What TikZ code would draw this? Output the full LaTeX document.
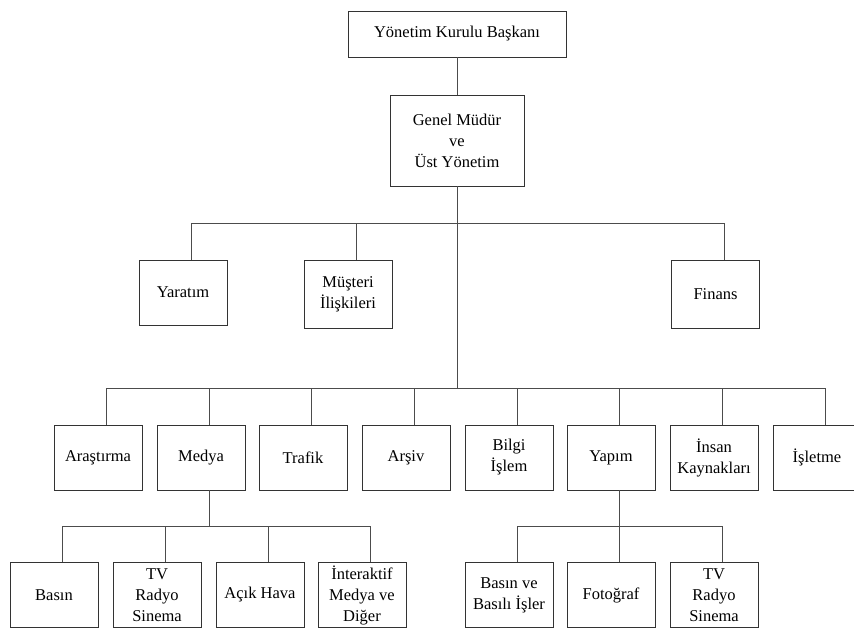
\documentclass[tikz,border=0pt]{standalone}
\usepackage{fontspec}
\setmainfont{Liberation Serif}

\tikzset{
    unit/.style={draw=black!80, line width=0.8pt, minimum width=88pt, minimum height=65pt,
        inner sep=1pt, align=center, font=\fontsize{16.5}{21}\selectfont},
    link/.style={draw=black!70, line width=0.8pt}
}

\begin{document}
\begin{tikzpicture}[x=1pt, y=-1pt]
            \useasboundingbox (0,0) rectangle (854,628);

            \def\dx{8.5pt}

            % top
            \node[unit, minimum width=218pt, minimum height=46pt] (ykb) at (457,34) {Yönetim Kurulu Başkanı};
            \node[unit, minimum width=134pt, minimum height=91pt] (gm) at (457,140.5) {Genel Müdür\\ve\\Üst Yönetim};

            % first level
            \node[unit] (yar) at (183,292.5) {Yaratım};
            \node[unit, minimum height=68pt] (mus) at (348,294) {Müşteri\\İlişkileri};
            \node[unit, minimum height=68pt] (fin) at (715.5,294) {Finans};

            % second level
            \node[unit] (ar) at (98,457.5) {Araştırma};
            \node[unit] (med) at (201,457.5) {Medya};
            \node[unit] (tra) at (303,457.5) {Trafik};
            \node[unit] (arsv) at (406,457.5) {Arşiv};
            \node[unit] (bil) at (509,457.5) {Bilgi\\İşlem};
            \node[unit] (yap) at (611,457.5) {Yapım};
            \node[unit] (ik) at (714,457.5) {İnsan\\Kaynakları};
            \node[unit] (isl) at (817,457.5) {İşletme};

            % third level
            \node[unit] (basin) at (54,595) {Basın};
            \node[unit] (tv) at (157,595) {TV\\Radyo\\Sinema};
            \node[unit] (acik) at (260,595) {Açık Hava};
            \node[unit] (inter) at (362,595) {İnteraktif\\Medya ve\\Diğer};
            \node[unit] (bv) at (509,595) {Basın ve\\Basılı İşler};
            \node[unit] (foto) at (611,595) {Fotoğraf};
            \node[unit] (tv2) at (714,595) {TV\\Radyo\\Sinema};

            \coordinate (hub1) at (457,223);
            \coordinate (hub2) at (457,388);
            \coordinate (hub3) at (209.5,526);
            \coordinate (hub4) at (619.5,526);

            \draw[link] (ykb) -- (gm);
            \draw[link] (gm.south) -- (hub2);
            \foreach \n in {yar,mus,fin}
                \draw[link] (hub1) -| ([xshift=\dx]\n.north);
            \foreach \n in {ar,med,tra,arsv,bil,yap,ik,isl}
                \draw[link] (hub2) -| ([xshift=\dx]\n.north);

            \draw[link] ([xshift=\dx]med.south) -- (hub3);
            \foreach \n in {basin,tv,acik,inter}
                \draw[link] (hub3) -| ([xshift=\dx]\n.north);
            \draw[link] ([xshift=\dx]yap.south) -- (hub4);
            \foreach \n in {bv,foto,tv2}
                \draw[link] (hub4) -| ([xshift=\dx]\n.north);
        \end{tikzpicture}
\end{document}
